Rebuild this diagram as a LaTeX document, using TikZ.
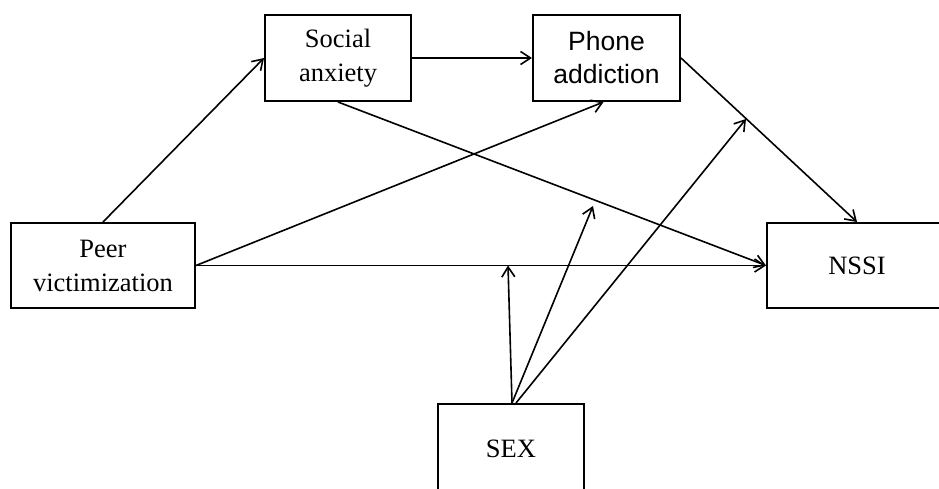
\documentclass[tikz,border=0pt]{standalone}
\usepackage{fontspec}
\setmainfont{Liberation Serif}
\newfontfamily\arialfont{Liberation Sans}
\usetikzlibrary{arrows.meta}
\begin{document}
\begin{tikzpicture}[x=1pt,y=-1pt,
  boxnode/.style={draw=black, line width=2pt, align=center, inner sep=0pt,
    font=\fontsize{26.5}{34}\selectfont},
  conn/.style={line width=1.6pt, -{Straight Barb[length=10pt,width=13pt,line width=1.6pt]}}]
\useasboundingbox (0,0) rectangle (939,488);
\node[boxnode, minimum width=184pt, minimum height=85pt] (peer) at (103,265.5) {Peer\\victimization};
\node[boxnode, minimum width=146pt, minimum height=86pt] (soc) at (338,58) {Social\\anxiety};
\node[boxnode, minimum width=147pt, minimum height=86pt, font=\arialfont\fontsize{26.5}{33}\selectfont] (phone) at (606.5,58) {Phone\\addiction};
\node[boxnode, minimum width=180pt, minimum height=85pt] (nssi) at (857,265.5) {NSSI};
\node[boxnode, minimum width=146pt, minimum height=90pt] (sex) at (511,449) {SEX};
\coordinate (m1) at (508,265.5);
\coordinate (m2) at (593,206);
\coordinate (m3) at (746,119);
\draw[conn] (peer.north) -- (soc.west);
\draw[conn] (soc.east) -- (phone.west);
\draw[conn] (peer.east) -- ([xshift=-3pt]phone.south);
\draw[conn] (peer.east) -- (nssi.west);
\draw[conn] (soc.south) -- (nssi.west);
\draw[conn] (phone.east) -- (nssi.north);
\draw[conn] ([xshift=1pt]sex.north) -- (m1);
\draw[conn] ([xshift=1pt]sex.north) -- (m2);
\draw[conn] ([xshift=5pt]sex.north) -- (m3);
\end{tikzpicture}
\end{document}
